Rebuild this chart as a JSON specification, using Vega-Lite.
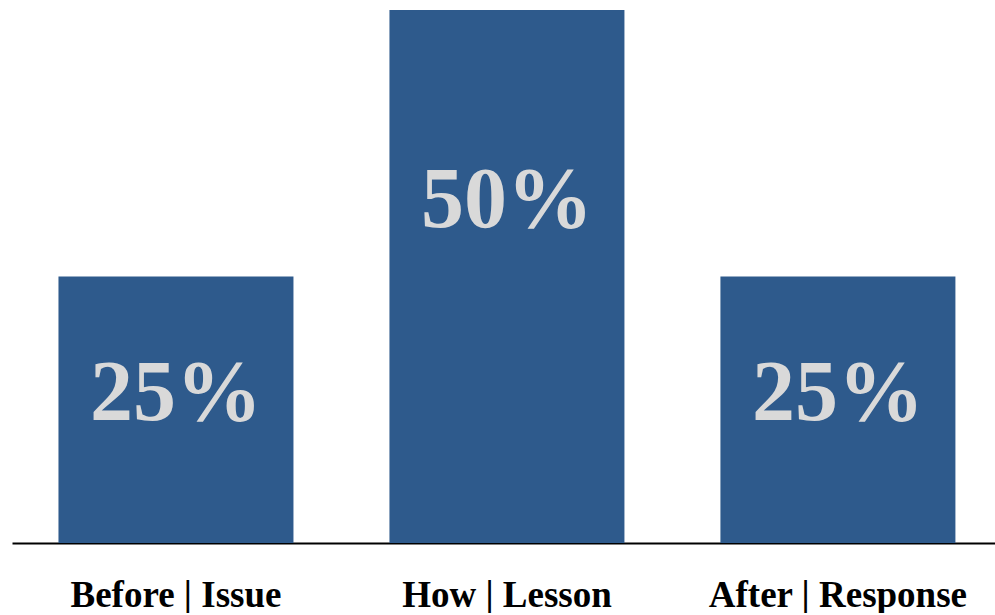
{
  "$schema": "https://vega.github.io/schema/vega-lite/v6.json",
  "width": 983,
  "height": 533,
  "padding": {"left": 12, "top": 10, "right": 0, "bottom": 0},
  "autosize": {"type": "pad"},
  "background": "white",
  "config": {"view": {"stroke": null}},
  "data": {
    "values": [
      {"stage": "Before | Issue", "value": 0.25},
      {"stage": "How | Lesson", "value": 0.5},
      {"stage": "After | Response", "value": 0.25}
    ]
  },
  "encoding": {
    "x": {
      "field": "stage",
      "type": "nominal",
      "sort": null,
      "scale": {"paddingInner": 0.29, "paddingOuter": 0.13, "align": 0.54},
      "axis": {
        "title": null,
        "labelAngle": 0,
        "ticks": false,
        "labelPadding": 34,
        "labelLimit": 0,
        "labelFont": "Liberation Serif",
        "labelFontWeight": "bold",
        "labelFontSize": 37,
        "labelColor": "#000000",
        "domainColor": "#000000",
        "domainWidth": 2
      }
    }
  },
  "layer": [
    {
      "mark": {"type": "bar", "color": "#2e5a8c"},
      "encoding": {
        "y": {"field": "value", "type": "quantitative", "scale": {"domain": [0, 0.5]}, "axis": null}
      }
    },
    {
      "transform": [{"calculate": "datum.value * 0.724 - 0.041", "as": "labelY"}],
      "mark": {"type": "text", "font": "Liberation Serif", "fontWeight": "bold", "fontSize": 86, "color": "#d9d9d9", "baseline": "middle"},
      "encoding": {
        "y": {"field": "labelY", "type": "quantitative", "scale": {"domain": [0, 0.5]}},
        "text": {"field": "value", "type": "quantitative", "format": ".0%"}
      }
    }
  ]
}
